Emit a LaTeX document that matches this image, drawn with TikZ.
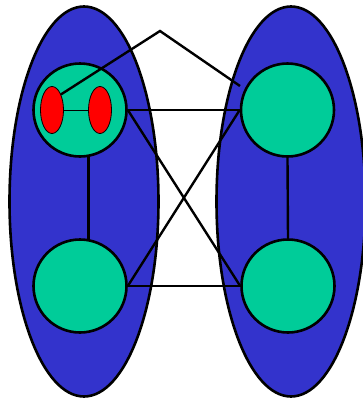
\documentclass[tikz,border=0pt]{standalone}
\usepackage{xcolor}
\usepackage{tikz}
\usetikzlibrary{shapes.geometric, positioning}
\definecolor{partBlue}{RGB}{51,51,204}
\definecolor{vertGreen}{RGB}{0,204,153}
\definecolor{dotRed}{RGB}{255,0,0}

\begin{document}
\begin{tikzpicture}[
    x=1pt, y=-1pt,
    partshape/.style={ellipse, draw=black, fill=partBlue, line width=2.6pt,
    minimum width=149pt, minimum height=390pt, inner sep=0pt},
    vertex/.style={circle, draw=black, fill=vertGreen, line width=2.6pt,
    minimum size=93pt, inner sep=0pt},
    dot/.style={ellipse, draw=black, fill=dotRed, line width=0.8pt,
    minimum width=23pt, minimum height=47pt, inner sep=0pt},
    edge/.style={line width=2.4pt, color=black}
]
\useasboundingbox (0,0) rectangle (363,399);
\clip (0,0) rectangle (363,399);
% two parts
\node[partshape] (lpart) at (84,201.5) {};
\node[partshape] (rpart) at (291,201.5) {};
% vertices
\node[vertex] (tl) at (80,110) {};
\node[vertex] (tr) at (287.5,110) {};
\node[vertex] (bl) at (80,286) {};
\node[vertex] (br) at (288,286) {};
% red dots in the top left vertex
\node[dot] (dl) at (52,110) {};
\node[dot] (dr) at (100,110) {};
\draw[line width=0.8pt] (dl) -- (dr);
% free ends
\coordinate (apex) at (160,31);
\coordinate (tip) at (240,86);

\draw[edge] (tl.-80) -- (bl.80);
\draw[edge] (tr.south) -- (br.north);
\draw[edge] (tl.east) -- (tr.west);
\draw[edge] (bl.east) -- (br.west);
\draw[edge] (tl.east) -- (br.west);
\draw[edge] (tr.west) -- (bl.east);
\draw[edge, line join=miter] (dl.60) -- (apex) -- (tip);
\end{tikzpicture}
\end{document}
